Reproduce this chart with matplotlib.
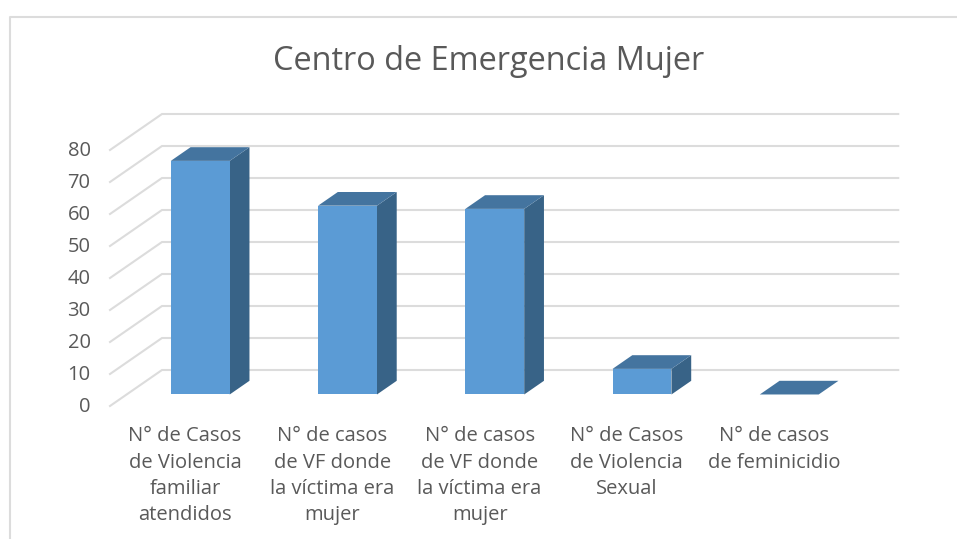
import numpy as np
import matplotlib
matplotlib.use('Agg')
import matplotlib.pyplot as plt
from matplotlib.lines import Line2D
from matplotlib.transforms import ScaledTranslation

categories = [
    'N° de Casos\nde Violencia\nfamiliar\natendidos',
    'N° de casos\nde VF donde\nla víctima era\nmujer',
    'N° de casos\nde VF donde\nla víctima era\nmujer',
    'N° de Casos\nde Violencia\nSexual',
    'N° de casos\nde feminicidio',
]
values = [73, 59, 58, 8, 0]
y_ticks = [0, 10, 20, 30, 40, 50, 60, 70, 80]

TEXT = '#595959'
GRID = '#DCDCDC'
FRONT = '#5B9BD5'
TOP = '#44749F'
SIDE = '#386387'

# fake 3d: how far the back wall sits from the front edge, in data units
DEPTH_X = 52 / 147.25
DEPTH_Y = 36 / 3.2
BAR_WIDTH = 0.4
BAR_D0 = 0.32
BAR_D1 = 0.70

W, H = 957, 539
plt.rcParams['font.family'] = 'Open Sans'


def project(x, v, d):
    return x + d * DEPTH_X, v + d * DEPTH_Y


def face(ax, corners, color, z):
    pts = [project(*c) for c in corners]
    ax.fill([p[0] for p in pts], [p[1] for p in pts], color=color, lw=0, zorder=z, clip_on=False)


fig = plt.figure(figsize=(W / 100, H / 100), dpi=100)
ax = fig.add_axes([110 / W, 1 - 406 / H, 788 / W, 292 / H])
ax.set_xlim(-0.5, (898 - 183.6) / 147.25)
ax.set_ylim(0, 292 / 3.2)
for s in ax.spines.values():
    s.set_visible(False)

# walls
x_left = -0.5
x_right = len(categories) - 0.5
for t in y_ticks:
    x0, y0 = project(x_left, t, 0)
    x1, y1 = project(x_left, t, 1)
    x2, y2 = project(x_right, t, 1)
    ax.plot([x0, x1, x2], [y0, y1, y2], color=GRID, lw=1.5, zorder=1, clip_on=False,
            solid_joinstyle='miter')

# bars
for i, v in enumerate(values):
    l = i - BAR_WIDTH / 2
    r = i + BAR_WIDTH / 2
    if v > 0:
        face(ax, [(r, 0, BAR_D0), (r, 0, BAR_D1), (r, v, BAR_D1), (r, v, BAR_D0)], SIDE, 3)
        face(ax, [(l, 0, BAR_D0), (r, 0, BAR_D0), (r, v, BAR_D0), (l, v, BAR_D0)], FRONT, 4)
    face(ax, [(l, v, BAR_D0), (r, v, BAR_D0), (r, v, BAR_D1), (l, v, BAR_D1)], TOP, 4)

ax.set_xticks(range(len(categories)))
ax.set_xticklabels(categories, fontsize=14.5, color=TEXT, linespacing=1.43)
ax.set_yticks(y_ticks)
ax.set_yticklabels([str(t) for t in y_ticks], fontsize=14.5, color=TEXT)
ax.tick_params(axis='x', length=0, pad=14.5)
ax.tick_params(axis='y', length=0, pad=14)

# labels are nudged a little off their ticks in the reference
y_shift = ScaledTranslation(0, 2 / 100, fig.dpi_scale_trans)
for lab in ax.get_yticklabels():
    lab.set_transform(lab.get_transform() + y_shift)
x_shift = ScaledTranslation(1.5 / 100, 0, fig.dpi_scale_trans)
for lab in ax.get_xticklabels():
    lab.set_transform(lab.get_transform() + x_shift)

fig.text(489 / W, 1 - 61 / H, 'Centro de Emergencia Mujer', fontsize=23.4, color=TEXT,
         ha='center', va='center')

# chart frame, cut off on the right and bottom of the screenshot
fig.add_artist(Line2D([9.5 / W, 9.5 / W, 1], [0, 1 - 16.5 / H, 1 - 16.5 / H], color=GRID, lw=1.5))

fig.savefig('out.png', dpi=100)
